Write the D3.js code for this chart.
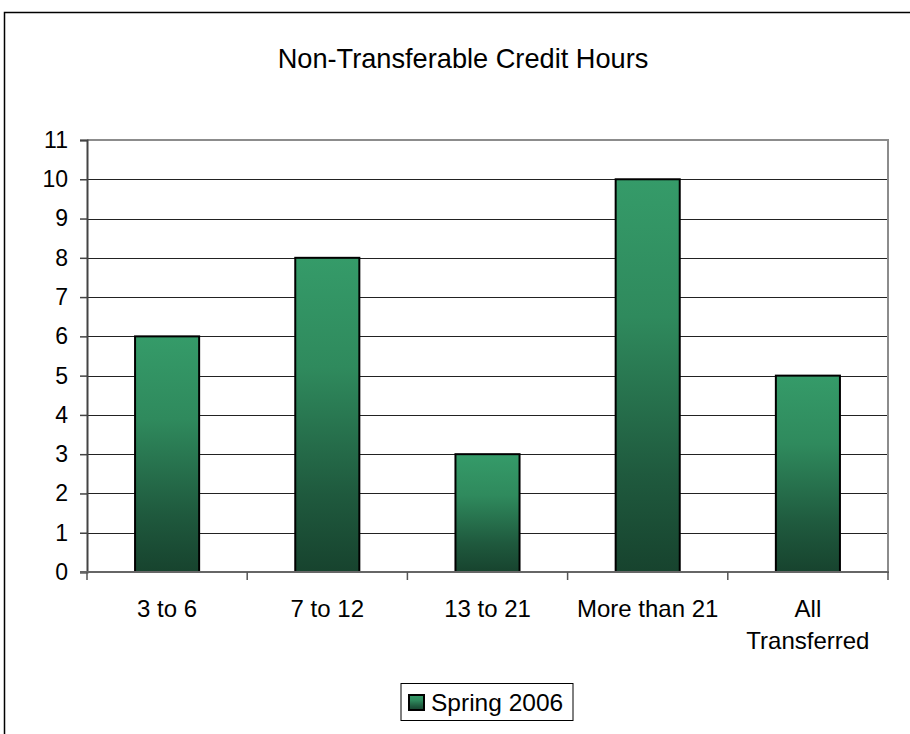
<!DOCTYPE html>
<html>
<head>
<meta charset="utf-8">
<script src="https://cdn.jsdelivr.net/npm/d3@7/dist/d3.min.js"></script>
<style>
  html, body { margin: 0; padding: 0; background: #fff; }
  svg { display: block; font-family: Arial, "Liberation Sans", sans-serif; }
</style>
</head>
<body>
<svg id="chart" width="910" height="734"></svg>
<script>
const categories = ["3 to 6", "7 to 12", "13 to 21", "More than 21", "All Transferred"];
const categoryLines = [["3 to 6"], ["7 to 12"], ["13 to 21"], ["More than 21"], ["All", "Transferred"]];
const values = [6, 8, 3, 10, 5];
const seriesName = "Spring 2006";
const yTicks = [0, 1, 2, 3, 4, 5, 6, 7, 8, 9, 10, 11];
const title = "Non-Transferable Credit Hours";

const svg = d3.select("#chart");
const W = 910, H = 734;
const plot = { left: 87, top: 140, right: 888, bottom: 572 };

// outer chart border
svg.append("rect")
  .attr("x", 4.5).attr("y", 12.5)
  .attr("width", W + 10).attr("height", H + 10)
  .attr("fill", "#fff").attr("stroke", "#000").attr("stroke-width", 1.5);

// gradient
const defs = svg.append("defs");
const grad = defs.append("linearGradient")
  .attr("id", "barGrad").attr("x1", 0).attr("y1", 0).attr("x2", 0).attr("y2", 1);
grad.append("stop").attr("offset", "0%").attr("stop-color", "#359b69");
grad.append("stop").attr("offset", "35%").attr("stop-color", "#2f8a5d");
grad.append("stop").attr("offset", "75%").attr("stop-color", "#1f5a3e");
grad.append("stop").attr("offset", "100%").attr("stop-color", "#17432e");

const x = d3.scaleBand().domain(categories).range([plot.left, plot.right]).paddingInner(0.6).paddingOuter(0.3);
const xBand = d3.scaleBand().domain(categories).range([plot.left, plot.right]);
const y = d3.scaleLinear().domain([0, 11]).range([plot.bottom, plot.top]);

// title
svg.append("text")
  .attr("x", 463).attr("y", 68)
  .attr("text-anchor", "middle")
  .attr("font-size", 27.2)
  .attr("fill", "#000")
  .text(title);

// gridlines
svg.append("g").selectAll("line")
  .data(yTicks.filter(d => d > 0 && d < 11))
  .join("line")
  .attr("x1", plot.left).attr("x2", plot.right)
  .attr("y1", d => Math.round(y(d)) + 0.5).attr("y2", d => Math.round(y(d)) + 0.5)
  .attr("stroke", "#222").attr("stroke-width", 1);

// plot area top & right border (gray)
svg.append("line")
  .attr("x1", plot.left).attr("x2", plot.right + 1)
  .attr("y1", y(11)).attr("y2", y(11))
  .attr("stroke", "#8c8c8c").attr("stroke-width", 2);
svg.append("line")
  .attr("x1", plot.right).attr("x2", plot.right)
  .attr("y1", y(11)).attr("y2", plot.bottom)
  .attr("stroke", "#8c8c8c").attr("stroke-width", 2);

// bars
svg.append("g").selectAll("rect")
  .data(values)
  .join("rect")
  .attr("x", (d, i) => x(categories[i]))
  .attr("width", x.bandwidth())
  .attr("y", d => y(d))
  .attr("height", d => y(0) - y(d))
  .attr("fill", "url(#barGrad)")
  .attr("stroke", "#000").attr("stroke-width", 2);

// y axis
const yAxis = d3.axisLeft(y).tickValues(yTicks).tickSize(7).tickPadding(12);
const gy = svg.append("g").attr("transform", `translate(${plot.left},0)`).call(yAxis);
gy.select(".domain").attr("stroke", "#444").attr("stroke-width", 2);
gy.selectAll(".tick line").attr("stroke", "#444").attr("stroke-width", 1.5);
gy.selectAll(".tick text").attr("font-size", 23).attr("fill", "#000")
  .attr("font-family", "Arial, 'Liberation Sans', sans-serif");

// x axis
const gx = svg.append("g").attr("transform", `translate(0,${plot.bottom})`);
gx.append("line")
  .attr("x1", plot.left - 7).attr("x2", plot.right + 1)
  .attr("y1", 0).attr("y2", 0)
  .attr("stroke", "#666").attr("stroke-width", 2);
const boundaries = categories.map(c => xBand(c)).concat([plot.right]);
gx.selectAll("line.tk").data(boundaries).join("line").attr("class", "tk")
  .attr("x1", d => d).attr("x2", d => d)
  .attr("y1", 0).attr("y2", 8)
  .attr("stroke", "#555").attr("stroke-width", 1.5);
const labels = gx.selectAll("text.lbl").data(categories).join("text").attr("class", "lbl")
  .attr("x", d => xBand(d) + xBand.bandwidth() / 2)
  .attr("y", 45)
  .attr("text-anchor", "middle")
  .attr("font-size", 24)
  .attr("fill", "#000");
labels.each(function(d, i) {
  const t = d3.select(this);
  categoryLines[i].forEach((ln, j) => {
    t.append("tspan")
      .attr("x", xBand(d) + xBand.bandwidth() / 2)
      .attr("dy", j === 0 ? 0 : 32)
      .text(ln);
  });
});

// legend
const lg = svg.append("g");
lg.append("rect")
  .attr("x", 401).attr("y", 683.5).attr("width", 172).attr("height", 37)
  .attr("fill", "#fff").attr("stroke", "#000").attr("stroke-width", 1);
lg.append("rect")
  .attr("x", 409).attr("y", 695).attr("width", 15).attr("height", 15)
  .attr("fill", "url(#barGrad)").attr("stroke", "#000").attr("stroke-width", 2);
lg.append("text")
  .attr("x", 431).attr("y", 711)
  .attr("font-size", 24.5)
  .attr("fill", "#000")
  .text(seriesName);
</script>
</body>
</html>
